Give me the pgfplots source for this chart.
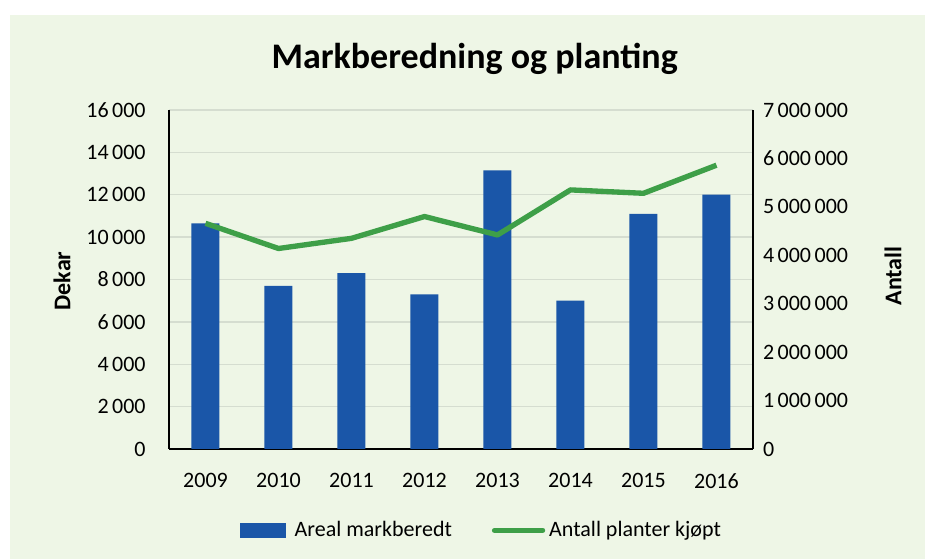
\documentclass[border=0pt]{standalone}
\usepackage{pgfplots}
\pgfplotsset{compat=1.18}
\usepackage{fontspec}
\setmainfont{Carlito}

\definecolor{bg}{HTML}{EEF6E6}
\definecolor{barblue}{HTML}{1A56A8}
\definecolor{linegreen}{HTML}{3E9F48}
\definecolor{gridc}{HTML}{D5DDD0}

\begin{document}
\begin{tikzpicture}
  % page: 925 x 559 px at 0.75pt/px
  \fill[white] (0,0) rectangle (693.75pt,419.25pt);
  \fill[bg] (7.5pt,0) rectangle (693.75pt,408pt);

  \pgfplotsset{
    base/.style={
      at={(126.75pt,82.5pt)}, anchor=south west,
      scale only axis, width=438pt, height=254.25pt,
      xmin=-0.5, xmax=7.5,
      xtick={0,...,7},
      xticklabels={2009,2010,2011,2012,2013,2014,2015,2016},
      major tick length=0pt,
      tick label style={font=\fontsize{16.5}{18}\selectfont},
      /pgf/number format/.cd, fixed, precision=0, 1000 sep={\hspace{0.16em}}, assume math mode=true,
    }
  }

  \begin{axis}[base,
      axis x line*=bottom, axis y line*=left,
      axis line style={black, line width=1.5pt},
      ymin=0, ymax=16000, ytick={0,2000,...,16000},
      scaled y ticks=false,
      ymajorgrids, grid style={gridc, line width=1pt},
      yticklabel style={xshift=-14pt},
      xticklabel style={yshift=-15pt},
    ]
    \addplot[ybar, bar width=21pt, fill=barblue, draw=none] coordinates {
      (0,10650) (1,7700) (2,8300) (3,7300) (4,13150) (5,7000) (6,11100) (7,12000)};
  \end{axis}

  \begin{axis}[base,
      axis x line=none, axis y line*=right,
      axis line style={black, line width=1.5pt},
      ymin=0, ymax=7000000, ytick={0,1000000,...,7000000},
      scaled y ticks=false,
      yticklabel style={xshift=4pt, anchor=west},
      legend columns=2,
      legend style={at={(0.533,-0.24)}, anchor=center, draw=none, fill=none,
        font=\fontsize{16.5}{18}\selectfont,
        nodes={inner xsep=0pt},
        /tikz/column 2/.style={column sep=28pt}},
    ]
    \addlegendimage{legend image code/.code={
        \fill[barblue] (0pt,-5.25pt) rectangle (34pt,5.25pt);
        \path (41pt,0);}}
    \addlegendentry{Areal markberedt}
    \addplot[linegreen, line width=4pt, line join=round,
      legend image code/.code={
        \draw[linegreen, line width=4pt, line cap=round] (2pt,0) -- (38pt,0);
        \path (0pt,0) (41pt,0);}]
      coordinates {
      (0,4660000) (1,4140000) (2,4350000) (3,4800000) (4,4420000)
      (5,5350000) (6,5280000) (7,5860000)};
    \addlegendentry{Antall planter kjøpt}
  \end{axis}

  \node[font=\fontsize{27}{30}\selectfont\bfseries] at (356pt,375pt) {Markberedning og planting};
  \node[font=\fontsize{18}{20}\selectfont\bfseries, rotate=90] at (46.5pt,208.5pt) {Dekar};
  \node[font=\fontsize{18}{20}\selectfont\bfseries, rotate=90] at (669.75pt,212.25pt) {Antall};
\end{tikzpicture}
\end{document}
